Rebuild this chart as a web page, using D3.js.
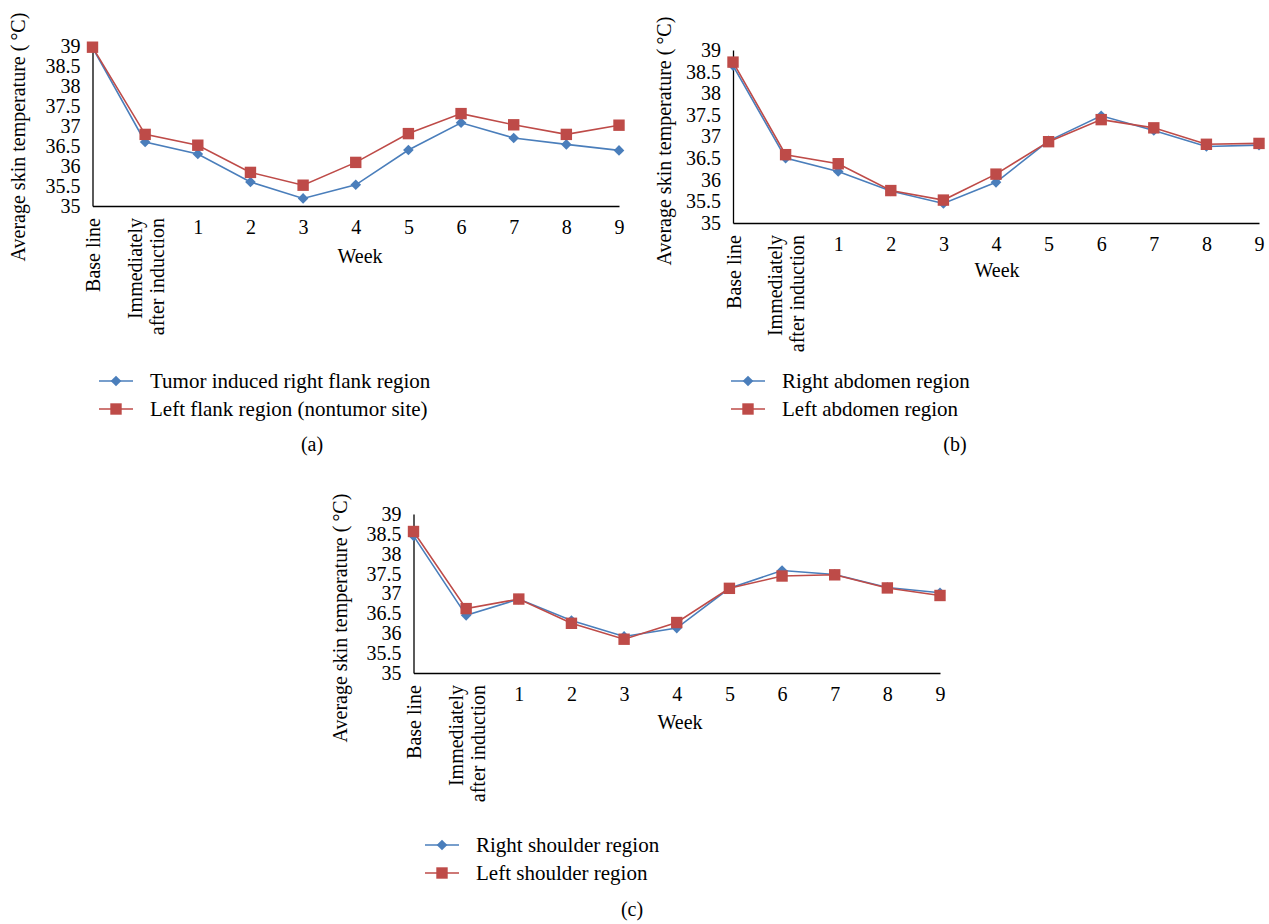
<!DOCTYPE html>
<html>
<head>
<meta charset="utf-8">
<script src="https://cdn.jsdelivr.net/npm/d3@7"></script>
<style>
  body { margin: 0; background: #fff; }
  svg { display: block; font-family: "Liberation Serif", "Times New Roman", serif; }
  .axis path { stroke: #000; stroke-width: 1.3; }
  .axis text { font-size: 20px; fill: #000; font-family: "Liberation Serif", serif; }
  .lbl { font-size: 20px; fill: #000; }
  .leg { font-size: 21px; fill: #000; }
</style>
</head>
<body>
<svg id="chart" width="1269" height="924"></svg>
<script>
// categories on the x axis
const CATEGORIES = ["Base line", "Immediately after induction", "1", "2", "3", "4", "5", "6", "7", "8", "9"];
const Y_TICKS = [35, 35.5, 36, 36.5, 37, 37.5, 38, 38.5, 39];

// (a) flank
const FLANK_RIGHT = [38.96, 36.6, 36.3, 35.6, 35.19, 35.53, 36.4, 37.08, 36.7, 36.54, 36.39];
const FLANK_LEFT  = [38.97, 36.79, 36.52, 35.84, 35.52, 36.09, 36.81, 37.31, 37.03, 36.79, 37.02];
// (b) abdomen
const ABDOMEN_RIGHT = [38.64, 36.5, 36.19, 35.74, 35.45, 35.94, 36.9, 37.48, 37.14, 36.77, 36.8];
const ABDOMEN_LEFT  = [38.72, 36.58, 36.37, 35.75, 35.53, 36.13, 36.88, 37.39, 37.2, 36.82, 36.84];
// (c) shoulder
const SHOULDER_RIGHT = [38.45, 36.45, 36.86, 36.32, 35.92, 36.13, 37.13, 37.58, 37.48, 37.15, 37.02];
const SHOULDER_LEFT  = [38.56, 36.62, 36.86, 36.25, 35.85, 36.27, 37.13, 37.44, 37.47, 37.14, 36.95];

const BLUE = "#4a7ebb", RED = "#be4b48";

const PANELS = [
  { tag: "(a)", right: FLANK_RIGHT, left: FLANK_LEFT,
    names: ["Tumor induced right flank region", "Left flank region (nontumor site)"],
    x0: 92.5, x1: 619, yB: 206, yT: 46, titleX: 18, titleY: 137,
    weekX: 360, weekY: 263, legX: 116, legY: 381, capX: 312, capY: 451 },
  { tag: "(b)", right: ABDOMEN_RIGHT, left: ABDOMEN_LEFT,
    names: ["Right abdomen region", "Left abdomen region"],
    x0: 733, x1: 1259, yB: 223, yT: 50, titleX: 664, titleY: 141,
    weekX: 997, weekY: 277, legX: 748, legY: 381, capX: 955, capY: 451 },
  { tag: "(c)", right: SHOULDER_RIGHT, left: SHOULDER_LEFT,
    names: ["Right shoulder region", "Left shoulder region"],
    x0: 413.5, x1: 940, yB: 673, yT: 514, titleX: 340, titleY: 618,
    weekX: 680, weekY: 729, legX: 442, legY: 845, capX: 632, capY: 916 }
];

const svg = d3.select("#chart");
const diamond = d3.symbol().type(d3.symbolDiamond2).size(72);
const square = d3.symbol().type(d3.symbolSquare).size(130);

PANELS.forEach(p => {
  const g = svg.append("g");
  const x = d3.scalePoint().domain(CATEGORIES).range([p.x0, p.x1]);
  const y = d3.scaleLinear().domain([35, 39]).range([p.yB, p.yT]);

  // y axis
  g.append("g").attr("class", "axis")
    .attr("transform", `translate(${p.x0},0)`)
    .call(d3.axisLeft(y).tickValues(Y_TICKS).tickSize(0).tickPadding(12).tickSizeOuter(0)
      .tickFormat(d => d));

  // x axis
  const xa = g.append("g").attr("class", "axis")
    .attr("transform", `translate(0,${p.yB})`)
    .call(d3.axisBottom(x).tickSize(0).tickPadding(14).tickSizeOuter(0));
  xa.selectAll(".tick text")
    .filter((d, i) => i < 2)
    .each(function(d) {
      const t = d3.select(this);
      const words = d === "Base line" ? ["Base line"] : ["Immediately", "after induction"];
      t.text(null).attr("y", 0).attr("dy", null)
        .attr("text-anchor", "end")
        .attr("transform", "translate(0,12) rotate(-90)");
      words.forEach((w, k) => {
        const off = (k - (words.length - 1) / 2) * 1.1 + 0.35;
        t.append("tspan").attr("x", 0).attr("y", off + "em").text(w);
      });
    });

  // series
  const line = d3.line().x((d, i) => x(CATEGORIES[i])).y(d => y(d));
  [[p.right, BLUE, diamond], [p.left, RED, square]].forEach(([vals, col, sym]) => {
    g.append("path").attr("d", line(vals)).attr("fill", "none")
      .attr("stroke", col).attr("stroke-width", 1.6);
    g.selectAll(null).data(vals).enter().append("path")
      .attr("d", sym)
      .attr("transform", (d, i) => `translate(${x(CATEGORIES[i])},${y(d)})`)
      .attr("fill", col);
  });

  // axis titles
  g.append("text").attr("class", "lbl")
    .attr("transform", `translate(${p.titleX},${p.titleY}) rotate(-90)`)
    .attr("text-anchor", "middle").attr("dy", "0.35em")
    .text("Average skin temperature (\u2009°C)");
  g.append("text").attr("class", "lbl")
    .attr("x", p.weekX).attr("y", p.weekY).attr("text-anchor", "middle")
    .text("Week");

  // legend
  [[BLUE, diamond, p.names[0]], [RED, square, p.names[1]]].forEach(([col, sym, name], k) => {
    const ly = p.legY + k * 28;
    g.append("line").attr("x1", p.legX - 17).attr("x2", p.legX + 17)
      .attr("y1", ly).attr("y2", ly).attr("stroke", col).attr("stroke-width", 1.6);
    g.append("path").attr("d", sym).attr("transform", `translate(${p.legX},${ly})`).attr("fill", col);
    g.append("text").attr("class", "leg").attr("x", p.legX + 34).attr("y", ly)
      .attr("dy", "0.35em").text(name);
  });

  g.append("text").attr("class", "lbl").attr("x", p.capX).attr("y", p.capY)
    .attr("text-anchor", "middle").text(p.tag);
});
</script>
</body>
</html>
